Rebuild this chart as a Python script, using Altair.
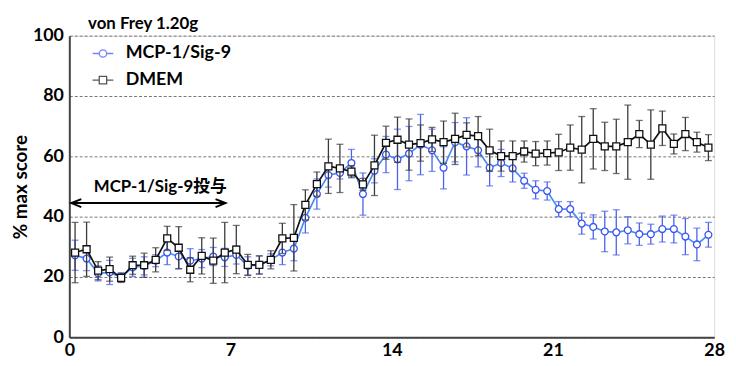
import altair as alt
import pandas as pd

# ---- data ----
days = [0.25, 0.75, 1.25, 1.75, 2.25, 2.75, 3.25, 3.75, 4.25, 4.75,
        5.25, 5.75, 6.25, 6.75, 7.25, 7.75, 8.25, 8.75, 9.25, 9.75,
        10.25, 10.75, 11.25, 11.75, 12.25, 12.75, 13.25, 13.75, 14.25, 14.75,
        15.25, 15.75, 16.25, 16.75, 17.25, 17.75, 18.25, 18.75, 19.25, 19.75,
        20.25, 20.75, 21.25, 21.75, 22.25, 22.75, 23.25, 23.75, 24.25, 24.75,
        25.25, 25.75, 26.25, 26.75, 27.25, 27.75]

mcp = [27.2, 26.1, 21.2, 21.5, 19.9, 23.2, 23.7, 25.4, 28.1, 26.8,
       25.4, 26.1, 26.8, 26.5, 27.3, 23.7, 24.0, 25.7, 28.1, 29.4,
       39.6, 47.5, 53.8, 54.5, 57.8, 47.5, 55.2, 60.6, 59.0, 60.9,
       63.9, 62.0, 56.2, 64.7, 63.3, 62.0, 56.2, 57.8, 56.0, 51.9,
       48.9, 48.5, 42.5, 42.5, 37.7, 36.6, 35.1, 34.8, 35.5, 34.2,
       34.2, 35.9, 35.9, 33.4, 30.8, 34.0]
mcp_sd = [5, 4, 2.5, 4, 1.5, 3, 3, 2, 4, 4,
          4, 3, 3, 3, 3, 3, 3, 2, 4, 4,
          5, 5, 4, 2, 4.5, 7, 4, 6, 10, 9,
          10, 7, 7, 6.5, 9.5, 5.5, 6, 4.5, 4.5, 2.5,
          3, 3, 2.5, 2.5, 3.5, 4, 6.7, 7.5, 4.5, 3.7,
          3.3, 4.3, 4.6, 6, 5.4, 4.1]

dmem = [28.1, 29.2, 22.1, 22.6, 19.7, 23.9, 23.9, 25.7, 32.8, 29.7,
        22.4, 27.0, 25.4, 28.1, 29.1, 24.0, 24.0, 25.7, 32.8, 33.0,
        43.9, 50.8, 56.7, 56.0, 54.9, 50.7, 57.0, 64.5, 65.5, 63.9,
        64.4, 65.6, 64.7, 65.8, 67.1, 66.7, 62.0, 60.1, 60.1, 61.6,
        60.9, 61.1, 61.3, 62.9, 62.2, 65.8, 63.3, 63.3, 64.7, 67.4,
        63.9, 69.3, 64.1, 67.4, 64.7, 62.9]
dmem_sd = [10, 9, 3, 4, 1.5, 3, 4, 4, 4, 7,
           4, 6, 7.5, 10, 8, 3.5, 3, 3, 5, 11,
           5, 4, 9, 8, 2, 2, 10, 5.5, 7.5, 8.5,
           6, 4, 7, 8.5, 4, 6.5, 7, 5, 5, 3.5,
           4, 4, 6, 7.5, 11, 10, 8, 9, 12.3, 4.5,
           11.5, 5.7, 3.3, 5.5, 3.3, 4.3]

series_names = ["MCP-1/Sig-9", "DMEM"]
x_ticks = [0, 7, 14, 21, 28]
y_ticks = [0, 20, 40, 60, 80, 100]
title_text = "von Frey 1.20g"
y_title = "% max score"
note_text = "MCP-1/Sig-9投与"
note_pos = [3.95, 49.8]
arrow_x = [0.09, 6.78]
arrow_y = 44.5

# ---- styling ----
FONT = "Lato, 'Noto Sans CJK JP', sans-serif"
BLUE_LINE = "#4a8cf2"
BLUE_MARK = "#3a55f0"
BLUE_ERR = "#4a62ee"
BLACK = "#111111"
BLACK_ERR = "#3a3a3a"
W, H = 652, 305

rows = []
for name, vals, sds in [(series_names[0], mcp, mcp_sd), (series_names[1], dmem, dmem_sd)]:
    for d, v, s in zip(days, vals, sds):
        rows.append({"day": d, "value": v, "lo": v - s, "hi": v + s, "series": name})
df = pd.DataFrame(rows)

x_scale = alt.Scale(domain=[0, 28], nice=False, zero=False)
y_scale = alt.Scale(domain=[0, 100], nice=False)

x_axis = alt.Axis(values=x_ticks, title=None, ticks=False, grid=False, labelPadding=4,
                  labelFont=FONT, labelFontSize=18, labelFontWeight="bold", labelColor="black",
                  domainColor="#444444", domainWidth=2, labelFlush=False)
y_axis = alt.Axis(values=y_ticks, title=y_title, ticks=False, grid=True, gridDash=[3, 2],
                  gridColor="#777777", gridWidth=1, labelPadding=6,
                  labelFont=FONT, labelFontSize=18, labelFontWeight="bold", labelColor="black",
                  titleFont=FONT, titleFontSize=19, titleFontWeight="bold", titleColor="black",
                  titlePadding=2, domainColor="#444444", domainWidth=2)


def X(field="day"):
    return alt.X(f"{field}:Q", scale=x_scale, axis=x_axis)


def Y(field):
    return alt.Y(f"{field}:Q", scale=y_scale, axis=y_axis)


base = alt.Chart(df)


def series_layers(name, line_color, mark_color, err_color, shape, size):
    b = base.transform_filter(alt.datum.series == name)
    rule = b.mark_rule(color=err_color, strokeWidth=1.3).encode(x=X(), y=Y("lo"), y2="hi:Q")
    cap_lo = b.mark_tick(color=err_color, orient="horizontal", size=7, thickness=1.3).encode(x=X(), y=Y("lo"))
    cap_hi = b.mark_tick(color=err_color, orient="horizontal", size=7, thickness=1.3).encode(x=X(), y=Y("hi"))
    line = b.mark_line(color=line_color, strokeWidth=1.7).encode(x=X(), y=Y("value"))
    pts = b.mark_point(shape=shape, filled=True, fill="white", stroke=mark_color,
                       strokeWidth=1.3, size=size, opacity=1).encode(x=X(), y=Y("value"))
    return [rule, cap_lo, cap_hi, line, pts]


layers = []
layers += series_layers(series_names[0], BLUE_LINE, BLUE_MARK, BLUE_ERR, "circle", 48)
layers += series_layers(series_names[1], BLACK, BLACK, BLACK_ERR, "square", 50)

# legend-only layer (no data drawn)
circle_path = "M-1.4,0H-0.5M0.5,0H1.4M-0.5,0A0.5,0.5 0 1,1 0.5,0A0.5,0.5 0 1,1 -0.5,0Z"
square_path = "M-1.4,0H-0.5M0.5,0H1.4M-0.5,-0.5H0.5V0.5H-0.5Z"
legend = alt.Legend(title=None, orient="none", legendX=25, legendY=9, padding=0,
                    labelFont=FONT, labelFontSize=18, labelFontWeight="bold", labelColor="black",
                    symbolSize=225, symbolStrokeWidth=1.3, symbolFillColor="white",
                    labelOffset=14, rowPadding=9)
legend_layer = base.transform_filter("false").mark_point(filled=False, strokeWidth=1.3).encode(
    x=X(), y=Y("value"),
    shape=alt.Shape("series:N", scale=alt.Scale(domain=series_names, range=[circle_path, square_path]),
                    legend=legend),
    color=alt.Color("series:N", scale=alt.Scale(domain=series_names, range=[BLUE_MARK, BLACK]),
                    legend=legend),
)
layers.append(legend_layer)

# annotation arrow and text
arrow_df = pd.DataFrame({"x": [arrow_x[0]], "x2": [arrow_x[1]], "y": [arrow_y]})
arrow_line = alt.Chart(arrow_df).mark_rule(color="black", strokeWidth=2).encode(
    x=alt.X("x:Q", scale=x_scale, axis=x_axis), x2="x2:Q", y=alt.Y("y:Q", scale=y_scale, axis=y_axis))
left_df = pd.DataFrame({"x": [arrow_x[0]], "y": [arrow_y]})
right_df = pd.DataFrame({"x": [arrow_x[1]], "y": [arrow_y]})
head_l = alt.Chart(left_df).mark_point(shape="M2,-0.8L0,0L2,0.8", filled=False, strokeWidth=2,
                                       size=100, color="black", opacity=1).encode(
    x=alt.X("x:Q", scale=x_scale, axis=x_axis), y=alt.Y("y:Q", scale=y_scale, axis=y_axis))
head_r = alt.Chart(right_df).mark_point(shape="M-2,-0.8L0,0L-2,0.8", filled=False, strokeWidth=2,
                                        size=100, color="black", opacity=1).encode(
    x=alt.X("x:Q", scale=x_scale, axis=x_axis), y=alt.Y("y:Q", scale=y_scale, axis=y_axis))
note_df = pd.DataFrame({"x": [note_pos[0]], "y": [note_pos[1]], "t": [note_text]})
note = alt.Chart(note_df).mark_text(font=FONT, fontSize=17, fontWeight="bold", color="black",
                                   align="center", baseline="middle").encode(
    x=alt.X("x:Q", scale=x_scale, axis=x_axis), y=alt.Y("y:Q", scale=y_scale, axis=y_axis), text="t:N")

layers += [arrow_line, head_l, head_r, note]

chart = alt.layer(*layers).properties(
    width=W, height=H,
    title=alt.TitleParams(title_text, anchor="start", frame="group", font=FONT, fontSize=17,
                          fontWeight="bold", color="black", dx=19, dy=14, offset=8),
    autosize=alt.AutoSizeParams(type="none"),
    padding={"left": 62, "top": 26, "right": 14, "bottom": 27},
).configure_view(stroke=None).configure(background="white")

chart.save("out.html", embed_options={"renderer": "svg", "actions": False})
